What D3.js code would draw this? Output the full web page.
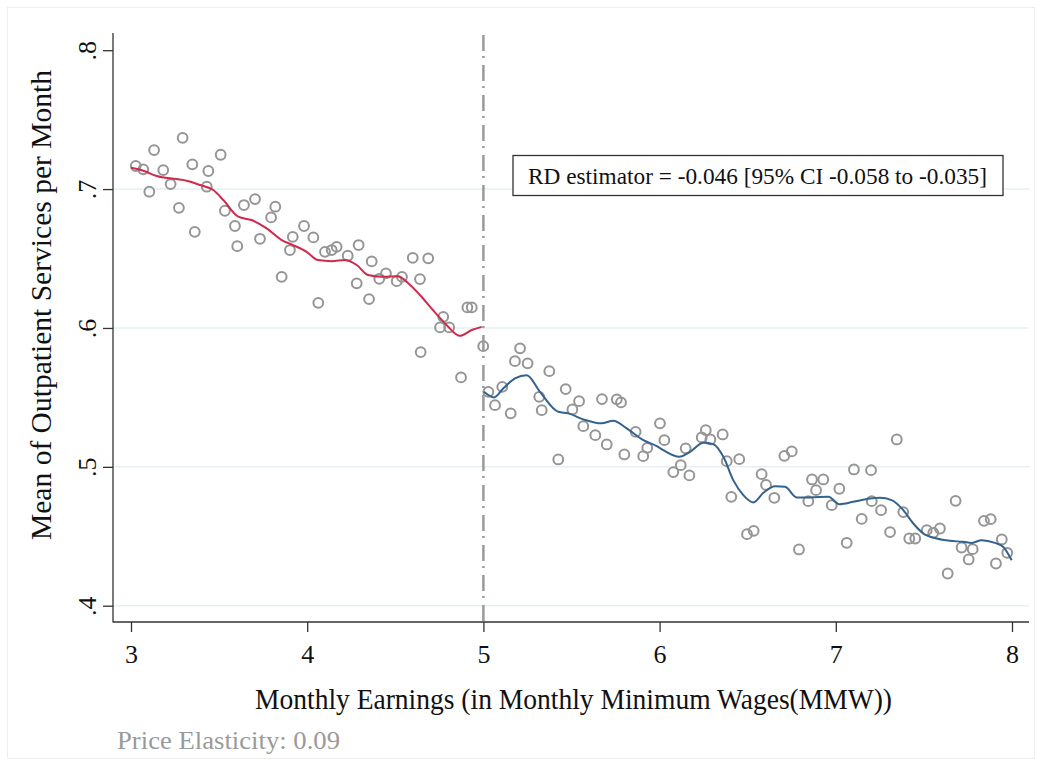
<!DOCTYPE html>
<html>
<head>
<meta charset="utf-8">
<script src="https://cdn.jsdelivr.net/npm/d3@7/dist/d3.min.js"></script>
<style>
  html, body { margin: 0; padding: 0; background: #fff; }
  svg { display: block; }
  text { font-family: "Liberation Serif", "Times New Roman", serif; }
</style>
</head>
<body>
<svg id="chart" width="1042" height="766"></svg>
<script>
// ---------- data ----------
const leftX = [3.027,3.070,3.131,3.104,3.183,3.225,3.293,3.272,3.348,3.362,3.439,3.430,3.509,3.533,3.590,3.603,3.641,3.704,3.732,3.795,3.819,3.855,3.918,3.902,3.982,4.035,4.063,4.101,4.139,4.167,4.230,4.292,4.281,4.351,4.366,4.409,4.447,4.508,4.538,4.599,4.640,4.687,4.644,4.772,4.754,4.806,4.909,4.934,4.873,4.999];
const leftY = [0.7166,0.7142,0.7281,0.6981,0.7137,0.7036,0.7369,0.6865,0.7178,0.6692,0.7130,0.7017,0.7247,0.6844,0.6734,0.6589,0.6885,0.6928,0.6642,0.6796,0.6873,0.6368,0.6656,0.6561,0.6734,0.6652,0.6181,0.6548,0.6561,0.6584,0.6520,0.6597,0.6321,0.6208,0.6479,0.6354,0.6393,0.6337,0.6368,0.6505,0.6352,0.6501,0.5826,0.6080,0.6004,0.6004,0.6148,0.6148,0.5644,0.5869];

const rightX = [5.208,5.179,5.251,5.374,5.028,5.107,5.066,5.155,5.317,5.331,5.467,5.543,5.505,5.567,5.635,5.673,5.757,5.781,5.700,5.425,5.864,5.800,5.907,5.930,6.002,6.027,6.148,6.078,6.120,6.169,6.239,6.262,6.288,6.358,6.381,6.452,6.407,6.579,6.604,6.651,6.496,6.534,6.708,6.750,6.791,6.865,6.929,6.888,6.844,6.977,7.020,7.062,7.103,7.200,7.346,7.147,7.204,7.257,7.308,7.383,7.417,7.451,7.516,7.553,7.591,7.635,7.680,7.714,7.777,7.754,7.841,7.879,7.942,7.973,7.909];
const rightY = [0.5853,0.5761,0.5745,0.5689,0.5540,0.5576,0.5444,0.5385,0.5504,0.5408,0.5560,0.5473,0.5413,0.5293,0.5228,0.5488,0.5486,0.5464,0.5161,0.5053,0.5252,0.5089,0.5077,0.5137,0.5313,0.5192,0.5133,0.4962,0.5012,0.4938,0.5212,0.5264,0.5197,0.5233,0.5041,0.5055,0.4784,0.4947,0.4870,0.4777,0.4515,0.4539,0.5079,0.5111,0.4405,0.4909,0.4909,0.4832,0.4753,0.4724,0.4842,0.4453,0.4981,0.4976,0.5197,0.4625,0.4753,0.4688,0.4530,0.4674,0.4484,0.4484,0.4544,0.4525,0.4556,0.4232,0.4755,0.4419,0.4407,0.4333,0.4611,0.4623,0.4477,0.4381,0.4304];

const fitLeftX = [3.000,3.070,3.146,3.259,3.316,3.392,3.467,3.524,3.609,3.685,3.770,3.855,3.919,3.997,4.061,4.139,4.215,4.281,4.345,4.430,4.515,4.572,4.640,4.714,4.792,4.867,4.934,4.990];
const fitLeftY = [0.7153,0.7132,0.7094,0.7072,0.7060,0.7029,0.6993,0.6921,0.6801,0.6777,0.6717,0.6633,0.6597,0.6548,0.6489,0.6481,0.6489,0.6453,0.6381,0.6368,0.6373,0.6323,0.6237,0.6128,0.6020,0.5943,0.5985,0.6008];

const fitRightX = [5.003,5.060,5.113,5.179,5.246,5.321,5.425,5.482,5.567,5.671,5.737,5.813,5.908,5.984,6.021,6.112,6.173,6.248,6.305,6.362,6.418,6.475,6.532,6.589,6.655,6.712,6.778,6.854,6.958,7.020,7.099,7.194,7.250,7.317,7.383,7.440,7.497,7.573,7.648,7.724,7.771,7.828,7.903,7.951,7.998];
const fitRightY = [0.5540,0.5500,0.5565,0.5637,0.5660,0.5540,0.5396,0.5385,0.5342,0.5313,0.5332,0.5277,0.5192,0.5149,0.5120,0.5072,0.5108,0.5173,0.5163,0.5072,0.4904,0.4796,0.4744,0.4813,0.4861,0.4856,0.4780,0.4780,0.4784,0.4731,0.4748,0.4772,0.4777,0.4760,0.4688,0.4592,0.4520,0.4484,0.4467,0.4460,0.4452,0.4472,0.4452,0.4423,0.4327];

const xTicks = [3,4,5,6,7,8];
const yTicks = [0.4,0.5,0.6,0.7,0.8];
const yTickLabels = [".4",".5",".6",".7",".8"];
const cutoff = 5;

const xTitle = "Monthly Earnings (in Monthly Minimum Wages(MMW))";
const yTitle = "Mean of Outpatient Services per Month";
const noteText = "Price Elasticity: 0.09";
const rdText = "RD estimator = -0.046 [95% CI -0.058 to -0.035]";

// ---------- layout ----------
const svg = d3.select("#chart");
const axisLeftX = 113, axisBottomY = 622, plotTop = 33, plotRight = 1029;
const x = d3.scaleLinear().domain([3, 8]).range([131, 1012]);
const y = d3.scaleLinear().domain([0.4, 0.8]).range([605.7, 50.2]);

// outer faint frame
svg.append("rect").attr("x", 7.5).attr("y", 7.5).attr("width", 1027).attr("height", 751)
  .attr("fill", "none").attr("stroke", "#eeeeee").attr("stroke-width", 1);

// gridlines
svg.append("g").selectAll("line").data(yTicks.filter(v => v < 0.8)).join("line")
  .attr("x1", axisLeftX).attr("x2", plotRight)
  .attr("y1", d => y(d)).attr("y2", d => y(d))
  .attr("stroke", "#e6eff1").attr("stroke-width", 1.5);

// y axis
const yAxis = d3.axisLeft(y).tickValues(yTicks).tickSize(10).tickSizeOuter(0)
  .tickFormat((d, i) => yTickLabels[i]);
const gy = svg.append("g").attr("transform", `translate(${axisLeftX},0)`).call(yAxis);
gy.select(".domain").remove();
gy.selectAll(".tick line").attr("stroke", "#333").attr("stroke-width", 1.3);
gy.selectAll(".tick text")
  .attr("x", null).attr("dy", null)
  .attr("transform", "translate(-17,0) rotate(-90)")
  .attr("text-anchor", "middle")
  .attr("font-size", 26).attr("fill", "#111")
  .attr("font-family", "Liberation Serif");
svg.append("line").attr("x1", axisLeftX).attr("x2", axisLeftX)
  .attr("y1", plotTop).attr("y2", axisBottomY + 0.5)
  .attr("stroke", "#333").attr("stroke-width", 1.3);

// x axis
const xAxis = d3.axisBottom(x).tickValues(xTicks).tickSize(10).tickSizeOuter(0)
  .tickFormat(d3.format("d"));
const gx = svg.append("g").attr("transform", `translate(0,${axisBottomY})`).call(xAxis);
gx.select(".domain").remove();
gx.selectAll(".tick line").attr("stroke", "#333").attr("stroke-width", 1.3);
gx.selectAll(".tick text")
  .attr("y", 41).attr("dy", null)
  .attr("font-size", 26).attr("fill", "#111")
  .attr("font-family", "Liberation Serif");
svg.append("line").attr("x1", axisLeftX).attr("x2", plotRight)
  .attr("y1", axisBottomY).attr("y2", axisBottomY)
  .attr("stroke", "#333").attr("stroke-width", 1.3);

// cutoff line
svg.append("line").attr("x1", x(cutoff)).attr("x2", x(cutoff))
  .attr("y1", plotTop + 2).attr("y2", axisBottomY)
  .attr("stroke", "#9a9a9a").attr("stroke-width", 2.5)
  .attr("stroke-dasharray", "16,5,2,7");

// scatter points
const pts = leftX.map((v, i) => [v, leftY[i]]).concat(rightX.map((v, i) => [v, rightY[i]]));
svg.append("g").selectAll("circle").data(pts).join("circle")
  .attr("cx", d => x(d[0])).attr("cy", d => y(d[1])).attr("r", 4.9)
  .attr("fill", "none").attr("stroke", "#959595").attr("stroke-width", 2);

// fitted lines
const line = d3.line().x(d => x(d[0])).y(d => y(d[1])).curve(d3.curveMonotoneX);
svg.append("path").datum(fitLeftX.map((v, i) => [v, fitLeftY[i]]))
  .attr("d", line).attr("fill", "none").attr("stroke", "#cf2a4e").attr("stroke-width", 2);
svg.append("path").datum(fitRightX.map((v, i) => [v, fitRightY[i]]))
  .attr("d", line).attr("fill", "none").attr("stroke", "#34628f").attr("stroke-width", 2);

// RD annotation box
svg.append("rect").attr("x", 513).attr("y", 155.5).attr("width", 490).attr("height", 40)
  .attr("fill", "#fff").attr("stroke", "#333").attr("stroke-width", 1.3);
svg.append("text").attr("x", 528).attr("y", 184)
  .attr("font-size", 23).attr("fill", "#111")
  .attr("textLength", 459).attr("lengthAdjust", "spacingAndGlyphs")
  .text(rdText);

// axis titles
svg.append("text").attr("x", 255).attr("y", 709)
  .attr("font-size", 29).attr("fill", "#111")
  .attr("textLength", 637).attr("lengthAdjust", "spacingAndGlyphs")
  .text(xTitle);
svg.append("text")
  .attr("transform", "translate(51,540) rotate(-90)")
  .attr("font-size", 29).attr("fill", "#111")
  .attr("textLength", 470).attr("lengthAdjust", "spacingAndGlyphs")
  .text(yTitle);

// note
svg.append("text").attr("x", 117).attr("y", 749)
  .attr("font-size", 26).attr("fill", "#9a9a9a")
  .attr("textLength", 223).attr("lengthAdjust", "spacingAndGlyphs")
  .text(noteText);
</script>
</body>
</html>
